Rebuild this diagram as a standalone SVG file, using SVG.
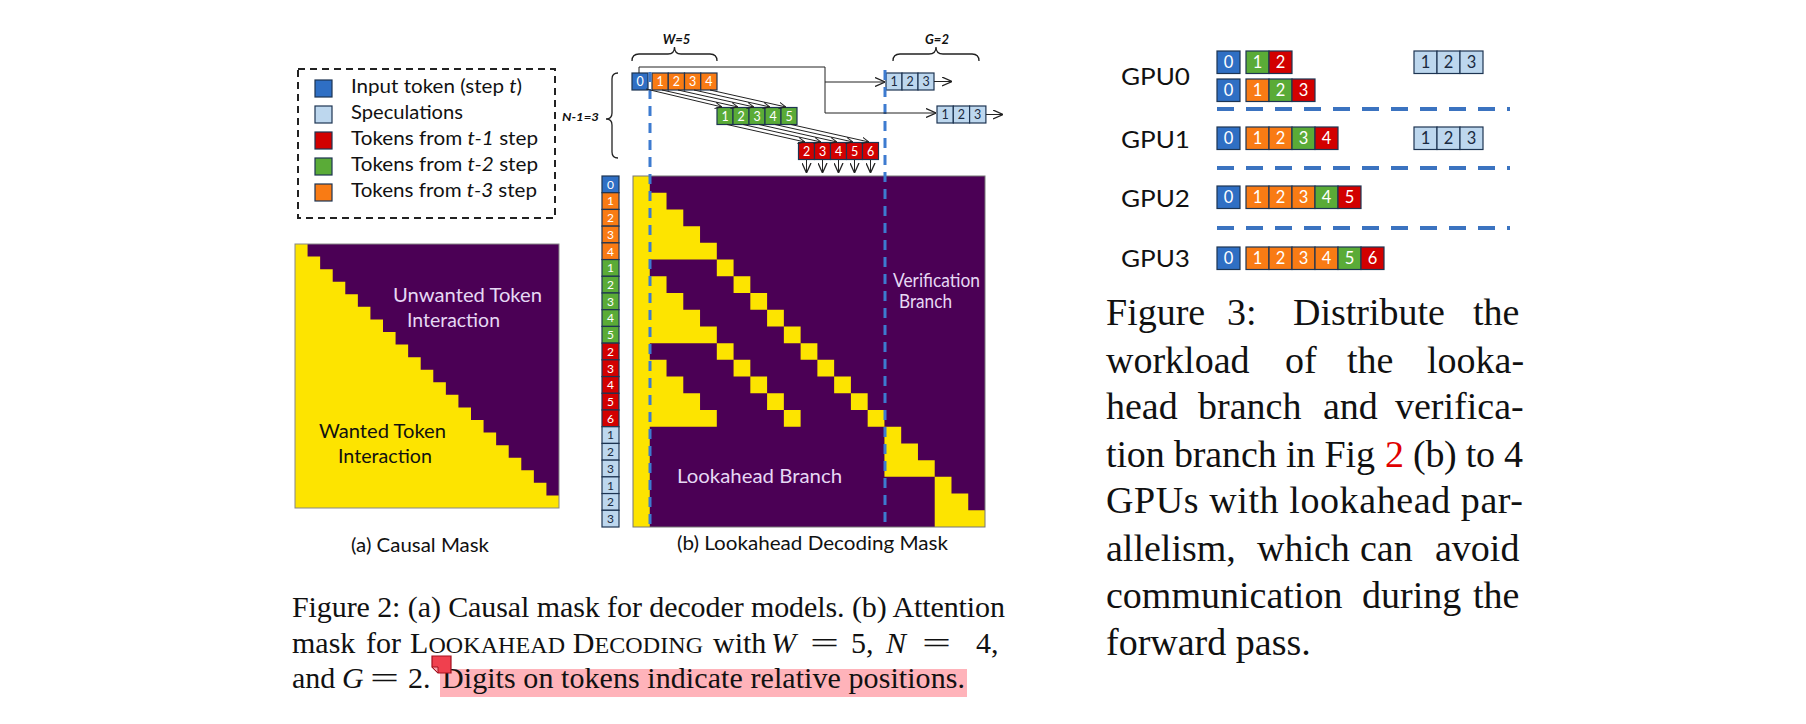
<svg xmlns="http://www.w3.org/2000/svg" width="1806" height="724" viewBox="0 0 1806 724">
<defs>
<marker id="ah" viewBox="0 0 10 10" refX="10" refY="5" markerWidth="10" markerHeight="10" orient="auto" markerUnits="userSpaceOnUse"><path d="M0,0.5 L10,5 L0,9.5" fill="none" stroke="#222" stroke-width="1.3"/></marker>
<marker id="ahs" viewBox="0 0 10 10" refX="10" refY="5" markerWidth="7" markerHeight="7" orient="auto" markerUnits="userSpaceOnUse"><path d="M0,0.5 L10,5 L0,9.5" fill="none" stroke="#222" stroke-width="1.4"/></marker>
</defs>
<style>
.tk{stroke:#1d3452;stroke-width:1.2}
.b{fill:#2f6fc4}.o{fill:#f97b14}.g{fill:#5aab37}.r{fill:#d20000}.lb{fill:#bdd7ee}
.tn{font-family:Lato,"Open Sans",sans-serif;text-anchor:middle;fill:#fff}
.tnd{fill:#1a2a40}
.s12{font-size:12.5px}.s11{font-size:12px}.s16{font-size:16.5px}
.lab{font-family:Lato,"Open Sans",sans-serif;fill:#111}
.lv{fill:#e6d8f4}
.cap{font-family:"Liberation Serif","Times New Roman",serif;fill:#111}
.conn{stroke:#222;stroke-width:1;fill:none}
.brace{stroke:#222;stroke-width:1.3;fill:none}
.vd{stroke:#3d7bd0;stroke-width:3;stroke-dasharray:10 7;fill:none}
.hd{stroke:#3b73c0;stroke-width:4;stroke-dasharray:17 12;fill:none}
.pur{fill:#4b0055}.yel{fill:#fde400}
</style>
<rect width="1806" height="724" fill="#fff"/>

<!-- Legend -->
<g id="legend">
<rect x="298" y="69" width="257" height="149" fill="none" stroke="#222" stroke-width="2" stroke-dasharray="7 5"/>
<rect class="tk b" x="315" y="80" width="17" height="17"/>
<rect class="tk lb" x="315" y="106" width="17" height="17"/>
<rect class="tk r" x="315" y="132" width="17" height="17"/>
<rect class="tk g" x="315" y="158" width="17" height="17"/>
<rect class="tk o" x="315" y="184" width="17" height="17"/>
<g class="lab" font-size="19.5">
<text x="351" y="93" textLength="171" lengthAdjust="spacingAndGlyphs">Input token (step <tspan font-style="italic">t</tspan>)</text>
<text x="351" y="119" textLength="112" lengthAdjust="spacingAndGlyphs">Speculations</text>
<text x="351" y="145" textLength="187" lengthAdjust="spacingAndGlyphs">Tokens from <tspan font-style="italic">t-1</tspan> step</text>
<text x="351" y="171" textLength="187" lengthAdjust="spacingAndGlyphs">Tokens from <tspan font-style="italic">t-2</tspan> step</text>
<text x="351" y="197" textLength="186" lengthAdjust="spacingAndGlyphs">Tokens from <tspan font-style="italic">t-3</tspan> step</text>
</g>
</g>

<!-- (a) Causal mask -->
<g id="causal-mask">
<rect class="pur" x="295" y="244" width="264" height="264"/>
<path class="yel" transform="translate(295,244) scale(12.571)" d="M0 0H1V1H2V2H3V3H4V4H5V5H6V6H7V7H8V8H9V9H10V10H11V11H12V12H13V13H14V14H15V15H16V16H17V17H18V18H19V19H20V20H21V21H0Z"/>
<rect x="295" y="244" width="264" height="264" fill="none" stroke="#888" stroke-width="1"/>
<g class="lab" font-size="18.5">
<text class="lv" x="393" y="302" textLength="149" lengthAdjust="spacingAndGlyphs">Unwanted Token</text>
<text class="lv" x="407" y="327" textLength="93" lengthAdjust="spacingAndGlyphs">Interaction</text>
<text x="319" y="438" textLength="127" lengthAdjust="spacingAndGlyphs">Wanted Token</text>
<text x="338" y="463" textLength="94" lengthAdjust="spacingAndGlyphs">Interaction</text>
<text x="351" y="552" textLength="138" lengthAdjust="spacingAndGlyphs">(a) Causal Mask</text>
</g>
</g>

<!-- (b) Lookahead decoding mask -->
<g id="lookahead-mask">
<rect class="pur" x="633" y="176" width="352" height="351"/>
<path class="yel" transform="translate(633,176) scale(16.762,16.714)" d="M0 0h1v21h-1z M1 1h1v1h-1z M1 2h2v1h-2z M1 3h3v1h-3z M1 4h4v1h-4z M1 6h1v1h-1z M1 7h2v1h-2z M1 8h3v1h-3z M1 9h4v1h-4z M1 11h1v1h-1z M1 12h2v1h-2z M1 13h3v1h-3z M1 14h4v1h-4z M5 5h1v1h-1z M6 6h1v1h-1z M7 7h1v1h-1z M8 8h1v1h-1z M9 9h1v1h-1z M10 10h1v1h-1z M11 11h1v1h-1z M12 12h1v1h-1z M13 13h1v1h-1z M14 14h1v1h-1z M5 10h1v1h-1z M6 11h1v1h-1z M7 12h1v1h-1z M8 13h1v1h-1z M9 14h1v1h-1z M15 15h1v1h-1z M15 16h2v1h-2z M15 17h3v1h-3z M18 18h1v1h-1z M18 19h2v1h-2z M18 20h3v1h-3z"/>
<rect x="633" y="176" width="352" height="351" fill="none" stroke="#777" stroke-width="1"/>
<g class="lab lv">
<text x="893" y="287" font-size="18.5" textLength="87" lengthAdjust="spacingAndGlyphs">Verification</text>
<text x="899" y="308" font-size="18.5" textLength="53" lengthAdjust="spacingAndGlyphs">Branch</text>
<text x="677" y="483" font-size="19.5" textLength="165" lengthAdjust="spacingAndGlyphs">Lookahead Branch</text>
</g>
<text class="lab" x="677" y="550" font-size="19.5" textLength="271" lengthAdjust="spacingAndGlyphs">(b) Lookahead Decoding Mask</text>
</g>

<!-- left token column -->
<g id="token-column">
<rect class="tk b" x="602" y="176" width="17" height="16.71"/><text class="tn s11" x="610.5" y="188.7">0</text>
<rect class="tk o" x="602" y="192.71" width="17" height="16.71"/><text class="tn s11" x="610.5" y="205.4">1</text>
<rect class="tk o" x="602" y="209.43" width="17" height="16.71"/><text class="tn s11" x="610.5" y="222.1">2</text>
<rect class="tk o" x="602" y="226.14" width="17" height="16.71"/><text class="tn s11" x="610.5" y="238.8">3</text>
<rect class="tk o" x="602" y="242.86" width="17" height="16.71"/><text class="tn s11" x="610.5" y="255.6">4</text>
<rect class="tk g" x="602" y="259.57" width="17" height="16.71"/><text class="tn s11" x="610.5" y="272.3">1</text>
<rect class="tk g" x="602" y="276.29" width="17" height="16.71"/><text class="tn s11" x="610.5" y="289">2</text>
<rect class="tk g" x="602" y="293" width="17" height="16.71"/><text class="tn s11" x="610.5" y="305.7">3</text>
<rect class="tk g" x="602" y="309.71" width="17" height="16.71"/><text class="tn s11" x="610.5" y="322.4">4</text>
<rect class="tk g" x="602" y="326.43" width="17" height="16.71"/><text class="tn s11" x="610.5" y="339.1">5</text>
<rect class="tk r" x="602" y="343.14" width="17" height="16.71"/><text class="tn s11" x="610.5" y="355.8">2</text>
<rect class="tk r" x="602" y="359.86" width="17" height="16.71"/><text class="tn s11" x="610.5" y="372.6">3</text>
<rect class="tk r" x="602" y="376.57" width="17" height="16.71"/><text class="tn s11" x="610.5" y="389.3">4</text>
<rect class="tk r" x="602" y="393.29" width="17" height="16.71"/><text class="tn s11" x="610.5" y="406">5</text>
<rect class="tk r" x="602" y="410" width="17" height="16.71"/><text class="tn s11" x="610.5" y="422.7">6</text>
<rect class="tk lb" x="602" y="426.71" width="17" height="16.71"/><text class="tn tnd s11" x="610.5" y="439.4">1</text>
<rect class="tk lb" x="602" y="443.43" width="17" height="16.71"/><text class="tn tnd s11" x="610.5" y="456.1">2</text>
<rect class="tk lb" x="602" y="460.14" width="17" height="16.71"/><text class="tn tnd s11" x="610.5" y="472.8">3</text>
<rect class="tk lb" x="602" y="476.86" width="17" height="16.71"/><text class="tn tnd s11" x="610.5" y="489.6">1</text>
<rect class="tk lb" x="602" y="493.57" width="17" height="16.71"/><text class="tn tnd s11" x="610.5" y="506.3">2</text>
<rect class="tk lb" x="602" y="510.29" width="17" height="16.71"/><text class="tn tnd s11" x="610.5" y="523">3</text>
</g>

<!-- top token rows -->
<g id="input-row">
<rect class="tk b" x="632" y="73" width="16" height="17"/><text class="tn s12" x="640" y="86">0</text>
<rect class="tk o" x="652" y="73" width="16.25" height="17"/><text class="tn s12" x="660.1" y="86">1</text>
<rect class="tk o" x="668.25" y="73" width="16.25" height="17"/><text class="tn s12" x="676.4" y="86">2</text>
<rect class="tk o" x="684.5" y="73" width="16.25" height="17"/><text class="tn s12" x="692.6" y="86">3</text>
<rect class="tk o" x="700.75" y="73" width="16.25" height="17"/><text class="tn s12" x="708.9" y="86">4</text>
</g>
<g id="green-row">
<rect class="tk g" x="717" y="107.5" width="16" height="17"/><text class="tn s12" x="725" y="120.5">1</text>
<rect class="tk g" x="733" y="107.5" width="16" height="17"/><text class="tn s12" x="741" y="120.5">2</text>
<rect class="tk g" x="749" y="107.5" width="16" height="17"/><text class="tn s12" x="757" y="120.5">3</text>
<rect class="tk g" x="765" y="107.5" width="16" height="17"/><text class="tn s12" x="773" y="120.5">4</text>
<rect class="tk g" x="781" y="107.5" width="16" height="17"/><text class="tn s12" x="789" y="120.5">5</text>
</g>
<g id="red-row">
<rect class="tk r" x="798.5" y="142.5" width="16" height="17"/><text class="tn s12" x="806.5" y="155.5">2</text>
<rect class="tk r" x="814.5" y="142.5" width="16" height="17"/><text class="tn s12" x="822.5" y="155.5">3</text>
<rect class="tk r" x="830.5" y="142.5" width="16" height="17"/><text class="tn s12" x="838.5" y="155.5">4</text>
<rect class="tk r" x="846.5" y="142.5" width="16" height="17"/><text class="tn s12" x="854.5" y="155.5">5</text>
<rect class="tk r" x="862.5" y="142.5" width="16" height="17"/><text class="tn s12" x="870.5" y="155.5">6</text>
</g>
<g id="spec-row-1">
<rect class="tk lb" x="886" y="73" width="16" height="17"/><text class="tn tnd s12" x="894" y="86">1</text>
<rect class="tk lb" x="902" y="73" width="16" height="17"/><text class="tn tnd s12" x="910" y="86">2</text>
<rect class="tk lb" x="918" y="73" width="16" height="17"/><text class="tn tnd s12" x="926" y="86">3</text>
</g>
<g id="spec-row-2">
<rect class="tk lb" x="937" y="106" width="16.3" height="17"/><text class="tn tnd s12" x="945.1" y="119">1</text>
<rect class="tk lb" x="953.3" y="106" width="16.3" height="17"/><text class="tn tnd s12" x="961.4" y="119">2</text>
<rect class="tk lb" x="969.6" y="106" width="16.3" height="17"/><text class="tn tnd s12" x="977.7" y="119">3</text>
</g>

<!-- braces and parameter labels -->
<g id="braces">
<path class="brace" d="M632,61 Q632,54 639,54 H668 Q674.5,54 674.5,47 Q674.5,54 681,54 H710 Q717,54 717,61"/>
<path class="brace" d="M893,61 Q893,54 900,54 H929 Q936,54 936,47 Q936,54 943,54 H972 Q979,54 979,61"/>
<path class="brace" d="M618,73 Q612,73 612,79 V113 Q612,119 606,119 Q612,119 612,125 V152 Q612,158 618,158"/>
<g class="lab" font-weight="bold" font-style="italic">
<text x="676.5" y="44" font-size="13" text-anchor="middle">W=5</text>
<text x="937" y="44" font-size="13" text-anchor="middle">G=2</text>
<text x="562" y="121" font-size="11" textLength="37" lengthAdjust="spacingAndGlyphs">N-1=3</text>
</g>
</g>

<!-- guide lines -->
<g id="guides">
<line class="vd" x1="650" y1="72" x2="650" y2="527"/>
<line class="vd" x1="885" y1="70" x2="885" y2="527"/>
</g>

<!-- connectors -->
<g id="connectors">
<path class="conn" d="M639,73 V67 H825 V113 H936" marker-end="url(#ah)"/>
<path class="conn" d="M825,82 H885" marker-end="url(#ah)"/>
<path class="conn" d="M934,81.5 H952" marker-end="url(#ah)"/>
<path class="conn" d="M986,114.5 H1003" marker-end="url(#ah)"/>
<path class="conn" d="M646,89 L722,107" marker-end="url(#ahs)"/>
<path class="conn" d="M662,90 L738,107" marker-end="url(#ahs)"/>
<path class="conn" d="M678,90 L754,107" marker-end="url(#ahs)"/>
<path class="conn" d="M694,90 L770,107" marker-end="url(#ahs)"/>
<path class="conn" d="M710,90 L786,107" marker-end="url(#ahs)"/>
<path class="conn" d="M727,124.5 L805,142" marker-end="url(#ahs)"/>
<path class="conn" d="M743,124.5 L821,142" marker-end="url(#ahs)"/>
<path class="conn" d="M759,124.5 L837,142" marker-end="url(#ahs)"/>
<path class="conn" d="M775,124.5 L853,142" marker-end="url(#ahs)"/>
<path class="conn" d="M791,124.5 L869,142" marker-end="url(#ahs)"/>
<path class="conn" d="M806.5,160 V173" marker-end="url(#ah)"/>
<path class="conn" d="M822.5,160 V173" marker-end="url(#ah)"/>
<path class="conn" d="M838.5,160 V173" marker-end="url(#ah)"/>
<path class="conn" d="M854.5,160 V173" marker-end="url(#ah)"/>
<path class="conn" d="M870.5,160 V173" marker-end="url(#ah)"/>
</g>

<!-- Figure 2 caption -->
<g id="fig2-caption" class="cap" font-size="30">
<text x="292" y="617" textLength="713" lengthAdjust="spacing">Figure 2: (a) Causal mask for decoder models. (b) Attention</text>
<text y="653"><tspan x="292">mask</tspan><tspan x="366">for</tspan><tspan x="410" textLength="293" lengthAdjust="spacing">L<tspan font-size="24">OOKAHEAD</tspan> D<tspan font-size="24">ECODING</tspan></tspan><tspan x="713">with</tspan><tspan x="771" font-style="italic">W</tspan><tspan x="810" textLength="29" lengthAdjust="spacingAndGlyphs">=</tspan><tspan x="851">5,</tspan><tspan x="886" font-style="italic">N</tspan><tspan x="922" textLength="29" lengthAdjust="spacingAndGlyphs">=</tspan><tspan x="976">4,</tspan></text>
<rect x="440" y="669" width="527" height="28" fill="#ffb3ba"/>
<text y="688"><tspan x="292">and</tspan><tspan x="342" font-style="italic">G</tspan><tspan x="370" textLength="29" lengthAdjust="spacingAndGlyphs">=</tspan><tspan x="408">2.</tspan><tspan x="442" textLength="523" lengthAdjust="spacing">Digits on tokens indicate relative positions.</tspan></text>
<polygon points="432,656 451,656 451,673 438,673 432,667" fill="#f0404e" stroke="#a3101e" stroke-width="1.2"/>
<polygon points="432,667 438,667 438,673" fill="#f9a5ad" stroke="#a3101e" stroke-width="1"/>
</g>

<!-- Figure 3: GPU distribution -->
<g id="gpu-dividers">
<line class="hd" x1="1217" y1="109" x2="1510" y2="109"/>
<line class="hd" x1="1217" y1="168" x2="1510" y2="168"/>
<line class="hd" x1="1217" y1="228" x2="1510" y2="228"/>
</g>
<g id="gpu0">
<text class="lab" x="1121" y="85" font-size="23.5" textLength="69" lengthAdjust="spacingAndGlyphs">GPU0</text>
<rect class="tk b" x="1217" y="51" width="23" height="22.5"/><text class="tn s16" x="1228.5" y="68">0</text>
<rect class="tk g" x="1246" y="51" width="23" height="22.5"/><text class="tn s16" x="1257.5" y="68">1</text>
<rect class="tk r" x="1269" y="51" width="23" height="22.5"/><text class="tn s16" x="1280.5" y="68">2</text>
<rect class="tk lb" x="1414" y="51" width="23" height="22.5"/><text class="tn tnd s16" x="1425.5" y="68">1</text>
<rect class="tk lb" x="1437" y="51" width="23" height="22.5"/><text class="tn tnd s16" x="1448.5" y="68">2</text>
<rect class="tk lb" x="1460" y="51" width="23" height="22.5"/><text class="tn tnd s16" x="1471.5" y="68">3</text>
<rect class="tk b" x="1217" y="79" width="23" height="22.5"/><text class="tn s16" x="1228.5" y="96">0</text>
<rect class="tk o" x="1246" y="79" width="23" height="22.5"/><text class="tn s16" x="1257.5" y="96">1</text>
<rect class="tk g" x="1269" y="79" width="23" height="22.5"/><text class="tn s16" x="1280.5" y="96">2</text>
<rect class="tk r" x="1292" y="79" width="23" height="22.5"/><text class="tn s16" x="1303.5" y="96">3</text>
</g>
<g id="gpu1">
<text class="lab" x="1121" y="148" font-size="23.5" textLength="69" lengthAdjust="spacingAndGlyphs">GPU1</text>
<rect class="tk b" x="1217" y="127" width="23" height="22.5"/><text class="tn s16" x="1228.5" y="144">0</text>
<rect class="tk o" x="1246" y="127" width="23" height="22.5"/><text class="tn s16" x="1257.5" y="144">1</text>
<rect class="tk o" x="1269" y="127" width="23" height="22.5"/><text class="tn s16" x="1280.5" y="144">2</text>
<rect class="tk g" x="1292" y="127" width="23" height="22.5"/><text class="tn s16" x="1303.5" y="144">3</text>
<rect class="tk r" x="1315" y="127" width="23" height="22.5"/><text class="tn s16" x="1326.5" y="144">4</text>
<rect class="tk lb" x="1414" y="127" width="23" height="22.5"/><text class="tn tnd s16" x="1425.5" y="144">1</text>
<rect class="tk lb" x="1437" y="127" width="23" height="22.5"/><text class="tn tnd s16" x="1448.5" y="144">2</text>
<rect class="tk lb" x="1460" y="127" width="23" height="22.5"/><text class="tn tnd s16" x="1471.5" y="144">3</text>
</g>
<g id="gpu2">
<text class="lab" x="1121" y="207" font-size="23.5" textLength="69" lengthAdjust="spacingAndGlyphs">GPU2</text>
<rect class="tk b" x="1217" y="186" width="23" height="22.5"/><text class="tn s16" x="1228.5" y="203">0</text>
<rect class="tk o" x="1246" y="186" width="23" height="22.5"/><text class="tn s16" x="1257.5" y="203">1</text>
<rect class="tk o" x="1269" y="186" width="23" height="22.5"/><text class="tn s16" x="1280.5" y="203">2</text>
<rect class="tk o" x="1292" y="186" width="23" height="22.5"/><text class="tn s16" x="1303.5" y="203">3</text>
<rect class="tk g" x="1315" y="186" width="23" height="22.5"/><text class="tn s16" x="1326.5" y="203">4</text>
<rect class="tk r" x="1338" y="186" width="23" height="22.5"/><text class="tn s16" x="1349.5" y="203">5</text>
</g>
<g id="gpu3">
<text class="lab" x="1121" y="267" font-size="23.5" textLength="69" lengthAdjust="spacingAndGlyphs">GPU3</text>
<rect class="tk b" x="1217" y="247" width="23" height="22.5"/><text class="tn s16" x="1228.5" y="264">0</text>
<rect class="tk o" x="1246" y="247" width="23" height="22.5"/><text class="tn s16" x="1257.5" y="264">1</text>
<rect class="tk o" x="1269" y="247" width="23" height="22.5"/><text class="tn s16" x="1280.5" y="264">2</text>
<rect class="tk o" x="1292" y="247" width="23" height="22.5"/><text class="tn s16" x="1303.5" y="264">3</text>
<rect class="tk o" x="1315" y="247" width="23" height="22.5"/><text class="tn s16" x="1326.5" y="264">4</text>
<rect class="tk g" x="1338" y="247" width="23" height="22.5"/><text class="tn s16" x="1349.5" y="264">5</text>
<rect class="tk r" x="1361" y="247" width="23" height="22.5"/><text class="tn s16" x="1372.5" y="264">6</text>
</g>

<!-- Figure 3 caption -->
<g id="fig3-caption" class="cap" font-size="38">
<text y="325"><tspan x="1106">Figure</tspan><tspan x="1227">3:</tspan><tspan x="1293">Distribute</tspan><tspan x="1473">the</tspan></text>
<text y="373"><tspan x="1106">workload</tspan><tspan x="1285">of</tspan><tspan x="1347">the</tspan><tspan x="1427">looka-</tspan></text>
<text y="419"><tspan x="1106">head</tspan><tspan x="1198">branch</tspan><tspan x="1323">and</tspan><tspan x="1395">verifica-</tspan></text>
<text y="467"><tspan x="1106" textLength="269" lengthAdjust="spacing">tion branch in Fig</tspan><tspan x="1385" fill="#e00000">2</tspan><tspan x="1413" textLength="110" lengthAdjust="spacing">(b) to 4</tspan></text>
<text x="1106" y="513" textLength="417" lengthAdjust="spacing">GPUs with lookahead par-</text>
<text y="561"><tspan x="1106">allelism,</tspan><tspan x="1257">which</tspan><tspan x="1360">can</tspan><tspan x="1435">avoid</tspan></text>
<text y="608"><tspan x="1106">communication</tspan><tspan x="1362">during</tspan><tspan x="1473">the</tspan></text>
<text x="1106" y="655">forward pass.</text>
</g>
</svg>
